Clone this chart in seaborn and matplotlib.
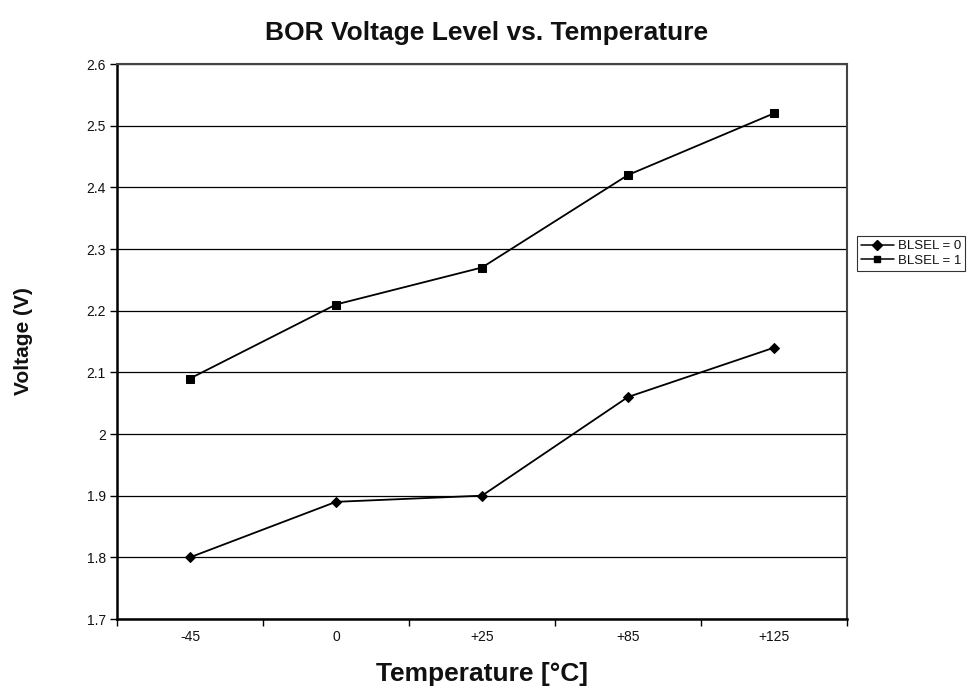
import pandas as pd
import matplotlib
matplotlib.use('Agg')
import matplotlib.pyplot as plt
import seaborn as sns
from matplotlib.lines import Line2D

# 데이터
temps = ['-45', '0', '+25', '+85', '+125']
blsel0 = [1.80, 1.89, 1.90, 2.06, 2.14]
blsel1 = [2.09, 2.21, 2.27, 2.42, 2.52]
yticks = [1.7, 1.8, 1.9, 2.0, 2.1, 2.2, 2.3, 2.4, 2.5, 2.6]
ylabels = ['1.7', '1.8', '1.9', '2', '2.1', '2.2', '2.3', '2.4', '2.5', '2.6']

sns.set_style('white')
plt.rcParams['font.family'] = ['Liberation Sans', 'DejaVu Sans']
plt.rcParams['text.color'] = '#111111'
plt.rcParams['axes.labelcolor'] = '#111111'
plt.rcParams['xtick.color'] = '#111111'
plt.rcParams['ytick.color'] = '#111111'

df = pd.DataFrame({
    'pos': list(range(len(temps))) * 2,
    'volt': blsel0 + blsel1,
    'series': ['BLSEL = 0'] * len(temps) + ['BLSEL = 1'] * len(temps),
})

fig = plt.figure(figsize=(9.73, 6.98), dpi=100)
ax = fig.add_axes([117/973, 1 - 619/698, 730/973, 555/698])

sns.lineplot(data=df, x='pos', y='volt', style='series', markers=['D', 's'],
             dashes=False, color='black', linewidth=1.3, markersize=5.5,
             markeredgecolor='black', legend=False, ax=ax)

ax.set_xlim(-0.5, len(temps) - 0.5)
ax.set_ylim(1.7, 2.6)
ax.set_yticks(yticks)
ax.set_yticklabels(ylabels)
ax.set_xticks([i - 0.5 for i in range(len(temps) + 1)])
ax.set_xticklabels([])
ax.set_xticks(range(len(temps)), minor=True)
ax.set_xticklabels(temps, minor=True)
ax.tick_params(axis='x', which='minor', bottom=False, length=0, pad=8, labelsize=10)
ax.tick_params(axis='x', which='major', bottom=True, length=5, width=1, direction='out', color='black')
ax.tick_params(axis='y', left=True, length=5, width=1, direction='out', color='black', labelsize=10, pad=3)
ax.yaxis.grid(True, color='black', linewidth=0.9)
ax.set_axisbelow(True)

for s in ['left', 'bottom']:
    ax.spines[s].set_color('black')
    ax.spines[s].set_linewidth(1.8)
for s in ['top', 'right']:
    ax.spines[s].set_color('#444444')
    ax.spines[s].set_linewidth(1.5)

ax.set_xlabel('Temperature [°C]', fontsize=19, fontweight='bold', labelpad=13)
ax.set_ylabel('Voltage (V)', fontsize=15, fontweight='bold')
ax.yaxis.set_label_coords(-(117 - 33) / 730, 0.5)
fig.suptitle('BOR Voltage Level vs. Temperature', fontsize=19, fontweight='bold', y=0.97)

# 범례
handles = [Line2D([], [], color='black', marker='D', markersize=5, linewidth=1.1),
           Line2D([], [], color='black', marker='s', markersize=5, linewidth=1.1)]
leg = fig.legend(handles, ['BLSEL = 0', 'BLSEL = 1'], loc='upper left',
                 bbox_to_anchor=(857/973, 1 - 236/698), fontsize=9.5, frameon=True,
                 fancybox=False, edgecolor='black', handlelength=2.5, handletextpad=0.3,
                 borderpad=0.3, labelspacing=0.2, borderaxespad=0)
leg.get_frame().set_linewidth(0.8)

fig.savefig('out.png', dpi=100)
